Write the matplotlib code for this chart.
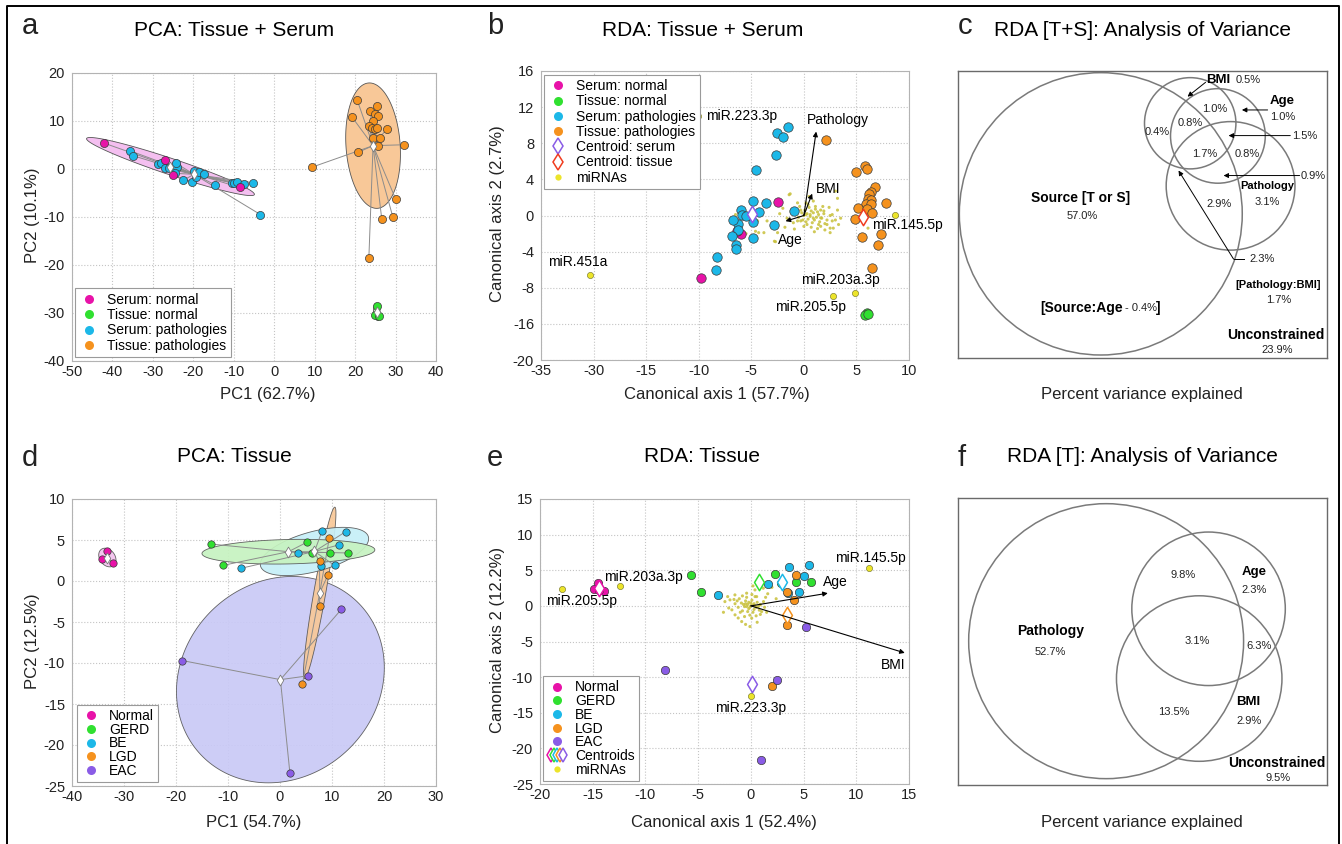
import matplotlib
matplotlib.use('Agg')
import matplotlib.pyplot as plt
import numpy as np
from matplotlib.lines import Line2D
from matplotlib.patches import Circle
from matplotlib.legend_handler import HandlerTuple

plt.rcParams['font.family'] = ['Liberation Sans', 'DejaVu Sans']
plt.rcParams['axes.unicode_minus'] = False

W, H = 1342, 844

MAGENTA = '#e812a8'
GREEN = '#30e030'
CYAN = '#1cb8e8'
ORANGE = '#f5921e'
PURPLE = '#8a5ce6'
YELLOW = '#ece42a'
SMALL_YEL = '#c8c03a'
RED = '#f03c1e'

# ---------------- panel a: PCA tissue + serum ----------------
a_serum_normal_x = [-42.1, -26.9, -25.1, -8.5]
a_serum_normal_y = [5.4, 1.85, -1.35, -3.85]
a_serum_path_x = [-35.7, -35.0, -28.8, -28.0, -27.0, -25.9, -24.95, -24.1, -24.3, -24.5, -22.5, -20.25,
                  -19.8, -19.3, -18.5, -17.3, -14.6, -10.5, -9.9, -9.3, -7.4, -5.3, -3.4]
a_serum_path_y = [3.8, 2.8, 1.0, 1.3, 0.15, 0.3, 0.3, 0.5, 1.2, -0.9, -2.35, -2.65,
                  -0.35, -1.6, -0.55, -1.1, -3.3, -2.85, -3.0, -2.65, -3.2, -2.85, -9.5]
a_tissue_normal_x = [25.3, 24.9, 26.0]
a_tissue_normal_y = [-28.5, -30.4, -30.6]
a_tissue_path_x = [20.5, 19.3, 23.8, 25.5, 24.9, 25.7, 24.5, 23.5, 24.1, 24.9, 25.5, 27.8, 24.3, 26.2,
                   25.6, 32.1, 20.8, 9.4, 30.0, 26.6, 29.3, 23.4]
a_tissue_path_y = [14.4, 10.75, 12.0, 13.2, 11.5, 11.1, 10.1, 8.9, 8.5, 8.4, 8.5, 8.3, 6.4, 6.4,
                   4.7, 5.05, 3.5, 0.4, -6.2, -10.5, -9.9, -18.5]

# ---------------- panel b: RDA tissue + serum ----------------
b_serum_normal_x = [-2.44, -6.0, -6.4, -9.82]
b_serum_normal_y = [1.49, -2.1, -1.67, -6.95]
b_tissue_normal_x = [6.0, 5.86, 6.1]
b_tissue_normal_y = [-13.5, -14.1, -13.8]
b_serum_path_x = [-1.52, -2.53, -2.03, -2.66, -4.59, -4.88, -3.64, -4.25, -4.88, -6.0, -5.9, -5.5,
                  -6.27, -6.7, -6.27, -2.88, -0.95, -6.88, -4.88, -6.46, -6.43, -8.24, -8.33]
b_serum_path_y = [9.78, 9.1, 8.74, 6.69, 5.02, 1.56, 1.34, 0.41, -0.7, 0.63, 0.1, -0.07,
                  -0.93, -0.52, -1.6, -1.08, 0.48, -2.23, -2.49, -3.23, -3.68, -4.54, -6.06]
b_tissue_path_x = [2.15, 5.86, 6.02, 5.0, 6.81, 6.34, 6.18, 6.08, 6.4, 5.89, 6.34, 7.83, 5.13, 6.02,
                   6.5, 4.82, 7.29, 5.51, 7.07, 6.5]
b_tissue_path_y = [8.36, 5.43, 5.2, 4.87, 3.2, 2.64, 2.34, 1.86, 1.67, 1.23, 1.3, 1.41, 0.78, 0.67,
                   0.3, -0.41, -2.0, -2.38, -3.23, -5.84]
b_centroid_names = ['serum', 'tissue']
b_centroid_x = [-4.9, 5.6]
b_centroid_y = [0.22, -0.19]
b_mir_names = ['miR.223.3p', 'miR.451a', 'miR.145.5p', 'miR.203a.3p', 'miR.205.5p']
b_mir_x = [-10.1, -30.3, 8.71, 4.85, 2.76]
b_mir_y = [11.0, -6.58, 0.11, -9.24, -9.92]
b_mir_small_x = [0.0, 0.3, 0.6, 0.9, 1.2, 0.4, -0.2, 0.1, 0.7, 1.0, 1.4, 1.7, -0.5, -0.3, 0.2, 0.8, 1.5,
                 1.9, 2.2, -0.8, 0.5, 1.1, -0.1, 0.6, 0.9, 1.3, 0.2, -0.6, 1.6, 2.0, 0.4, -0.4, 1.8,
                 2.5, 2.7, 3.0, 3.3, 2.2, 2.5, 1.3, 1.6, 1.9, 2.7, -0.3, -0.6, 0.5, 0.2, -1.4, 1.1,
                 3.0, -1.0, -1.2, -1.6, 0.0, 0.7, 1.0, 2.0, 2.8, 3.5, 3.2, -2.5, -2.7, -4.3, -6.5,
                 -6.65, -4.4, -3.5, -4.6, -3.8, -2.8, -1.3, 3.2, 2.5, 1.6, 6.1, -2.0, -1.8, -2.3,
                 0.9, 1.4, 0.3, -0.9, 2.4, -5.5, -6.0]
b_mir_small_y = [0.0, 0.2, -0.1, 0.3, -0.2, -0.4, 0.3, 0.6, 0.5, -0.5, 0.1, -0.3, -0.2, 0.6, -0.7,
                 -0.8, -0.7, 0.2, -0.5, 0.2, 0.9, 0.7, -0.5, 0.1, -0.3, 0.4, 0.1, -0.6, 0.6, -0.9,
                 1.2, 1.0, 1.0, 0.0, -0.6, -0.5, -1.0, -1.0, -1.9, -1.45, -0.26, 0.5, 0.1, -0.6,
                 1.4, 2.1, 1.4, 2.3, 1.0, 2.7, -0.8, 0.5, -0.3, -1.2, -1.3, -1.8, -1.6, -1.4, -0.3,
                 0.6, -1.9, -2.9, -1.9, 0.1, -0.8, -0.6, -0.6, -1.75, -1.9, -2.85, 2.4, 1.9, -1.4,
                 -1.2, -1.4, 0.8, -1.3, 0.2, 1.6, -1.0, -1.0, -1.5, 0.9, -2.0, 0.8]
b_vec_names = ['Pathology', 'BMI', 'Age']
b_vec_x = [1.17, 0.79, -1.74]
b_vec_y = [9.29, 2.42, -0.63]

# ---------------- panel d: PCA tissue ----------------
d_groups = ['Normal', 'GERD', 'BE', 'LGD', 'EAC']
d_x = {
    'Normal': [-33.2, -34.3, -32.1],
    'GERD': [-13.2, -11.0, 5.1, 6.1, 9.7, 13.0],
    'BE': [-7.5, 3.5, 8.1, 12.6, 11.3, 7.9, 10.5],
    'LGD': [9.5, 7.6, 9.2, 7.6, 4.3],
    'EAC': [-18.8, 11.8, 5.4, 1.9],
}
d_y = {
    'Normal': [3.7, 2.65, 2.24],
    'GERD': [4.5, 1.9, 4.7, 3.46, 3.46, 3.42],
    'BE': [1.55, 3.4, 6.1, 6.0, 4.4, 1.87, 1.9],
    'LGD': [5.3, 2.4, 0.7, -3.05, -12.6],
    'EAC': [-9.7, -3.46, -11.56, -23.4],
}

# ---------------- panel e: RDA tissue ----------------
e_x = {
    'Normal': [-14.5, -14.9, -13.9, -14.4],
    'GERD': [-5.7, -4.7, 2.3, 4.3, 5.7, 2.9],
    'BE': [-3.15, 1.6, 3.6, 5.0, 5.55, 4.6, 3.55],
    'LGD': [4.25, 3.4, 4.1, 3.4, 2.0],
    'EAC': [-8.14, 2.5, 5.2, 0.93],
}
e_y = {
    'Normal': [3.2, 2.3, 2.1, 2.2],
    'GERD': [4.3, 1.9, 4.44, 3.3, 3.3, 3.2],
    'BE': [1.54, 3.1, 5.4, 4.2, 5.7, 1.96, 1.8],
    'LGD': [4.35, 2.0, 0.84, -2.7, -11.2],
    'EAC': [-9.0, -10.4, -2.9, -21.6],
}
e_mir_names = ['miR.145.5p', 'miR.203a.3p', 'miR.205.5p', 'miR.223.3p']
e_mir_x = [11.2, -12.4, -17.9, 0.0]
e_mir_y = [5.3, 2.8, 2.3, -12.6]
e_mir_small_x = [0.0, -0.3, -0.6, 0.3, -0.2, 0.5, -0.9, -0.5, 0.1, 0.6, -1.2, -0.8, 0.2, 0.8, -1.5,
                 -1.1, -0.4, 0.4, 0.9, -0.1, -0.6, 0.5, -1.5, -1.8, -2.46, -1.98, -1.51, -0.4, 0.55,
                 0.39, 0.86, 1.02, 0.08, -0.87, -0.09, 1.18, 1.6, 2.0, 1.4, -2.1, -1.3, -0.2, 0.2,
                 -0.4, 0.7, -0.7, -1.0, 1.3, 1.2, -0.3, 0.3, -1.6, -2.2, 0.1, -0.8, 0.9, -1.2, 0.6,
                 -0.5, 1.5, 0.0, -0.1, -0.5, 0.4, 2.4, -2.6, 0.2]
e_mir_small_y = [0.0, 0.2, -0.1, 0.3, -0.4, -0.2, 0.4, 0.7, 0.8, 0.5, -0.2, -0.7, -0.9, -0.6, 0.3,
                 1.0, 1.2, 1.3, 0.2, -1.3, -1.5, -1.4, -1.26, -0.56, 0.6, 0.84, 1.54, 1.78, 1.3,
                 2.24, 0.14, -0.8, -1.73, -2.2, -2.9, 2.48, 1.7, 2.6, 1.2, -0.3, 0.7, 0.5, 0.1,
                 -0.1, -0.1, 0.2, -0.9, -0.2, 0.6, -0.8, -0.5, 0.9, 1.3, 1.6, 1.4, -1.2, -1.7,
                 -2.3, -2.6, -0.9, 0.4, -0.2, 0.3, 0.0, 1.0, -0.9, 2.8]
e_vec_names = ['Age', 'BMI']
e_vec_x = [7.3, 14.6]
e_vec_y = [1.78, -6.6]

group_colors = {'Normal': MAGENTA, 'GERD': GREEN, 'BE': CYAN, 'LGD': ORANGE, 'EAC': PURPLE}
group_fills = {'Normal': '#f4c2ee', 'GERD': '#c6f3c0', 'BE': '#c6eff8', 'LGD': '#f8c898', 'EAC': '#c9c9f6'}

# ---------------- panel c / f: variance partitioning (venn layout in panel pixel units) ----------------
c_circle_names = ['Source', 'BMI', 'Age', 'Pathology']
c_circle_cx = [512, 780, 863, 901]
c_circle_cy = [642, 370, 408, 558]
c_circle_r = [424, 137, 142, 193]
f_circle_names = ['Pathology', 'Age', 'BMI']
f_circle_cx = [528, 835, 807]
f_circle_cy = [664, 567, 776]
f_circle_r = [412, 230, 248]


fig = plt.figure(figsize=(W / 100, H / 100), dpi=100)


def place(l, t, r, b):
    return fig.add_axes([l / W, 1 - b / H, (r - l) / W, (b - t) / H])


def style_axes(ax):
    for s in ax.spines.values():
        s.set_color('#b3b3b3')
        s.set_linewidth(0.8)
    ax.grid(True, color='#c4c4c4', linestyle=':', linewidth=0.8)
    ax.set_axisbelow(True)
    ax.tick_params(length=0, labelsize=10.5, colors='#222222')
    ax.tick_params(axis='x', pad=3)
    ax.tick_params(axis='y', pad=5)


def cov_ellipse(x, y, scale=1.51, n=200):
    x = np.asarray(x, float)
    y = np.asarray(y, float)
    vals, vecs = np.linalg.eigh(np.cov(x, y))
    t = np.linspace(0, 2 * np.pi, n)
    circ = np.vstack([np.cos(t), np.sin(t)])
    pts = vecs @ (np.sqrt(np.clip(vals, 0, None))[:, None] * circ) * scale
    return x.mean() + pts[0], y.mean() + pts[1]


def spider(ax, x, y, size, color, with_centroid=True):
    cx, cy = np.mean(x), np.mean(y)
    for xi, yi in zip(x, y):
        ax.plot([cx, xi], [cy, yi], color='#8c8c8c', lw=0.7, zorder=2)
    ax.scatter(x, y, s=size, c=color, edgecolors='#3a3a3a', linewidths=0.5, zorder=4)
    if with_centroid:
        ax.scatter([cx], [cy], marker='d', s=30, c='white', edgecolors='#7a7a7a', linewidths=0.6, zorder=5)


def dot(color, ms=6.5):
    return Line2D([], [], marker='o', ls='none', markersize=ms, markerfacecolor=color, markeredgecolor='none')


def diamond(color, ms=8):
    return Line2D([], [], marker='d', ls='none', markersize=ms, markerfacecolor='white',
                  markeredgecolor=color, markeredgewidth=1.1)


def make_legend(ax, handles, labels, anchor, loc, spacing, **kw):
    leg = ax.legend(handles, labels, loc=loc, bbox_to_anchor=anchor, borderaxespad=0, fontsize=10,
                    frameon=True, fancybox=False, edgecolor='#9a9a9a', framealpha=1,
                    labelspacing=spacing, handletextpad=0.6, handlelength=1.4, borderpad=0.3, **kw)
    leg.get_frame().set_linewidth(0.8)
    return leg


# ================= panel a =================
ax = place(72, 73, 436, 361)
style_axes(ax)
ax.set_xlim(-50, 40)
ax.set_ylim(-40, 20)
ax.set_xticks(range(-50, 41, 10))
ax.set_yticks(range(-40, 21, 10))
for gx, gy, fill in [(a_serum_normal_x, a_serum_normal_y, '#f4bff0'),
                     (a_tissue_path_x, a_tissue_path_y, '#f8c898'),
                     (a_tissue_normal_x, a_tissue_normal_y, '#c6f3c0')]:
    ex, ey = cov_ellipse(gx, gy)
    ax.fill(ex, ey, facecolor=fill, edgecolor='#555555', lw=0.6, zorder=1)
spider(ax, a_serum_path_x, a_serum_path_y, 34, CYAN)
spider(ax, a_serum_normal_x, a_serum_normal_y, 34, MAGENTA)
spider(ax, a_tissue_path_x, a_tissue_path_y, 34, ORANGE)
spider(ax, a_tissue_normal_x, a_tissue_normal_y, 34, GREEN)
make_legend(ax, [dot(MAGENTA), dot(GREEN), dot(CYAN), dot(ORANGE)],
            ['Serum: normal', 'Tissue: normal', 'Serum: pathologies', 'Tissue: pathologies'],
            (0.008, 0.014), 'lower left', 0.1)

# ================= panel b =================
def fwd_x(x):
    x = np.asarray(x, float)
    return np.where(x < -30, x + 10, np.where(x < -15, -20 + (x + 30) / 3, x))


def inv_x(x):
    x = np.asarray(x, float)
    return np.where(x < -20, x - 10, np.where(x < -15, -30 + (x + 20) * 3, x))


def fwd_y(y):
    y = np.asarray(y, float)
    return np.where(y < -16, y + 4, np.where(y < -8, -8 + (y + 8) / 2, y))


def inv_y(y):
    y = np.asarray(y, float)
    return np.where(y < -12, y - 4, np.where(y < -8, -8 + (y + 8) * 2, y))


ax = place(541, 71, 909, 360)
ax.set_xscale('function', functions=(fwd_x, inv_x))
ax.set_yscale('function', functions=(fwd_y, inv_y))
style_axes(ax)
ax.set_xlim(-35, 10)
ax.set_ylim(-20, 16)
ax.set_xticks([-35, -30, -15, -10, -5, 0, 5, 10])
ax.set_xticklabels(['-35', '-30', '-15', '-10', '-5', '0', '5', '10'])
ax.set_yticks([-20, -16, -8, -4, 0, 4, 8, 12, 16])
ax.set_yticklabels(['-20', '-16', '-8', '-4', '0', '4', '8', '12', '16'])
ax.minorticks_off()
ax.scatter(b_mir_small_x, b_mir_small_y, s=5, c=SMALL_YEL, edgecolors='none', alpha=0.85, zorder=3)
for xs, ys, col in [(b_serum_normal_x, b_serum_normal_y, MAGENTA),
                    (b_tissue_normal_x, b_tissue_normal_y, GREEN),
                    (b_serum_path_x, b_serum_path_y, CYAN),
                    (b_tissue_path_x, b_tissue_path_y, ORANGE)]:
    ax.scatter(xs, ys, s=46, c=col, edgecolors='#3a3a3a', linewidths=0.5, zorder=4)
for nm, cx, cy in zip(b_centroid_names, b_centroid_x, b_centroid_y):
    ax.scatter([cx], [cy], marker='d', s=70, c='white', edgecolors=PURPLE if nm == 'serum' else RED,
               linewidths=1.1, zorder=5)
ax.scatter(b_mir_x, b_mir_y, s=20, c=YELLOW, edgecolors='#6a6a20', linewidths=0.4, zorder=5)
b_mir_offsets = {'miR.223.3p': (8, 0, 'left'), 'miR.451a': (-13, 13, 'center'),
                 'miR.145.5p': (-23, -10, 'left'), 'miR.203a.3p': (-54, 13, 'left'),
                 'miR.205.5p': (-58, -11, 'left')}
for nm, mx, my in zip(b_mir_names, b_mir_x, b_mir_y):
    dx, dy, ha = b_mir_offsets[nm]
    ax.annotate(nm, (mx, my), xytext=(dx, dy), textcoords='offset pixels', ha=ha, va='center',
                fontsize=10, zorder=6)
b_vec_offsets = {'Pathology': (-9, 12), 'BMI': (4, 5), 'Age': (-8, -19)}
for nm, vx, vy in zip(b_vec_names, b_vec_x, b_vec_y):
    ax.annotate('', xy=(vx, vy), xytext=(0, 0),
                arrowprops=dict(arrowstyle='-|>', color='black', lw=0.8, mutation_scale=7,
                                shrinkA=0, shrinkB=0), zorder=6)
    dx, dy = b_vec_offsets[nm]
    ax.annotate(nm, (vx, vy), xytext=(dx, dy), textcoords='offset pixels', ha='left', va='center',
                fontsize=10, zorder=6)
make_legend(ax, [dot(MAGENTA), dot(GREEN), dot(CYAN), dot(ORANGE), diamond(PURPLE), diamond(RED),
                 dot(YELLOW, 4.5)],
            ['Serum: normal', 'Tissue: normal', 'Serum: pathologies', 'Tissue: pathologies',
             'Centroid: serum', 'Centroid: tissue', 'miRNAs'],
            (0.008, 0.986), 'upper left', 0.09)

# ================= panel d =================
ax = place(72, 499, 436, 786)
style_axes(ax)
ax.set_xlim(-40, 30)
ax.set_ylim(-25, 10)
ax.set_xticks(range(-40, 31, 10))
ax.set_yticks(range(-25, 11, 5))
for g in ['EAC', 'LGD', 'BE', 'GERD', 'Normal']:
    ex, ey = cov_ellipse(d_x[g], d_y[g])
    ax.fill(ex, ey, facecolor=group_fills[g], edgecolor='#555555', lw=0.6, zorder=1, alpha=0.92)
for g in d_groups:
    spider(ax, d_x[g], d_y[g], 28, group_colors[g])
make_legend(ax, [dot(group_colors[g]) for g in d_groups], d_groups, (0.014, 0.014), 'lower left', -0.02)

# ================= panel e =================
ax = place(540, 499, 909, 784)
style_axes(ax)
ax.set_xlim(-20, 15)
ax.set_ylim(-25, 15)
ax.set_xticks(range(-20, 16, 5))
ax.set_yticks(range(-25, 16, 5))
ax.scatter(e_mir_small_x, e_mir_small_y, s=5, c=SMALL_YEL, edgecolors='none', alpha=0.85, zorder=3)
for g in d_groups:
    ax.scatter(e_x[g], e_y[g], s=36, c=group_colors[g], edgecolors='#3a3a3a', linewidths=0.5, zorder=4)
for g in d_groups:
    ax.scatter([np.mean(e_x[g])], [np.mean(e_y[g])], marker='d', s=70, c='white',
               edgecolors=group_colors[g], linewidths=1.1, zorder=5)
ax.scatter(e_mir_x, e_mir_y, s=20, c=YELLOW, edgecolors='#6a6a20', linewidths=0.4, zorder=5)
e_mir_offsets = {'miR.145.5p': (-34, 10, 'left'), 'miR.203a.3p': (-16, 9, 'left'),
                 'miR.205.5p': (-16, -12, 'left'), 'miR.223.3p': (0, -12, 'center')}
for nm, mx, my in zip(e_mir_names, e_mir_x, e_mir_y):
    dx, dy, ha = e_mir_offsets[nm]
    ax.annotate(nm, (mx, my), xytext=(dx, dy), textcoords='offset pixels', ha=ha, va='center',
                fontsize=10, zorder=6)
e_vec_offsets = {'Age': (-5, 11), 'BMI': (-24, -12)}
for nm, vx, vy in zip(e_vec_names, e_vec_x, e_vec_y):
    ax.annotate('', xy=(vx, vy), xytext=(0, 0),
                arrowprops=dict(arrowstyle='-|>', color='black', lw=0.8, mutation_scale=7,
                                shrinkA=0, shrinkB=0), zorder=6)
    dx, dy = e_vec_offsets[nm]
    ax.annotate(nm, (vx, vy), xytext=(dx, dy), textcoords='offset pixels', ha='left', va='center',
                fontsize=10, zorder=6)
cent_handle = tuple(diamond(group_colors[g], 7.5) for g in d_groups)
make_legend(ax, [dot(group_colors[g]) for g in d_groups] + [cent_handle, dot(YELLOW, 4.5)],
            d_groups + ['Centroids', 'miRNAs'], (0.008, 0.011), 'lower left', -0.02,
            handler_map={tuple: HandlerTuple(ndivide=None, pad=-0.33)})


# ================= venn panels =================
def venn_axes(l, t, r, b, ylim_top, ylim_bottom):
    a = place(l, t, r, b)
    a.set_xlim(84, 1190)
    a.set_ylim(ylim_bottom, ylim_top)
    a.set_xticks([])
    a.set_yticks([])
    for s in a.spines.values():
        s.set_color('#6a6a6a')
        s.set_linewidth(1.0)
    return a


def arrow(a, tail, head):
    a.annotate('', xy=head, xytext=tail,
               arrowprops=dict(arrowstyle='-|>', color='black', lw=0.7, mutation_scale=7, shrinkA=0, shrinkB=0))


ax = venn_axes(958, 71, 1327, 358, 213, 1075)
for cx, cy, r in zip(c_circle_cx, c_circle_cy, c_circle_r):
    ax.add_patch(Circle((cx, cy), r, fill=False, edgecolor='#7a7a7a', lw=1.1, clip_on=False))
B = dict(fontsize=9.5, fontweight='bold', ha='center', va='center')
P = dict(fontsize=8, ha='center', va='center', color='#222222')
ax.text(865, 240, 'BMI', **B)
ax.text(953, 240, '0.5%', **P)
arrow(ax, (826, 247), (772, 290))
ax.text(1057, 303, 'Age', **B)
ax.text(1057, 350, '1.0%', **P)
arrow(ax, (1012, 330), (935, 330))
ax.text(1122, 407, '1.5%', **P)
arrow(ax, (1080, 407), (895, 407))
ax.text(1148, 527, '0.9%', **P)
arrow(ax, (1108, 527), (880, 527))
ax.text(852, 328, '1.0%', **P)
ax.text(780, 370, '0.8%', **P)
ax.text(682, 395, '0.4%', **P)
ax.text(822, 463, '1.7%', **P)
ax.text(952, 463, '0.8%', **P)
ax.text(1010, 557, 'Pathology', fontsize=8, fontweight='bold', ha='center', va='center')
ax.text(1010, 605, '3.1%', **P)
ax.text(865, 612, '2.9%', **P)
ax.text(995, 778, '2.3%', **P)
ax.plot([940, 910], [778, 778], color='black', lw=0.7)
arrow(ax, (910, 778), (745, 512))
ax.text(1045, 855, '[Pathology:BMI]', fontsize=8, fontweight='bold', ha='center', va='center')
ax.text(1045, 902, '1.7%', **P)
ax.text(450, 595, 'Source [T or S]', fontsize=10, fontweight='bold', ha='center', va='center')
ax.text(455, 648, '57.0%', **P)
ax.text(578, 925, '[Source:Age', fontsize=10, fontweight='bold', ha='right', va='center')
ax.text(585, 925, '- 0.4%', fontsize=8, ha='left', va='center', color='#222222')
ax.text(678, 925, ']', fontsize=10, fontweight='bold', ha='left', va='center')
ax.text(1038, 1005, 'Unconstrained', fontsize=10, fontweight='bold', ha='center', va='center')
ax.text(1040, 1050, '23.9%', **P)

ax = venn_axes(958, 498, 1327, 785, 235, 1095)
for cx, cy, r in zip(f_circle_cx, f_circle_cy, f_circle_r):
    ax.add_patch(Circle((cx, cy), r, fill=False, edgecolor='#7a7a7a', lw=1.1, clip_on=False))
ax.text(760, 467, '9.8%', **P)
ax.text(972, 458, 'Age', **B)
ax.text(972, 512, '2.3%', **P)
ax.text(362, 635, 'Pathology', fontsize=10, fontweight='bold', ha='center', va='center')
ax.text(362, 697, '52.7%', **P)
ax.text(800, 663, '3.1%', **P)
ax.text(985, 678, '6.3%', **P)
ax.text(955, 845, 'BMI', **B)
ax.text(955, 903, '2.9%', **P)
ax.text(730, 877, '13.5%', **P)
ax.text(1040, 1030, 'Unconstrained', fontsize=10, fontweight='bold', ha='center', va='center')
ax.text(1042, 1073, '9.5%', **P)

# ================= titles, letters, axis labels =================
def ftext(x, y, s, **kw):
    fig.text(x / W, 1 - y / H, s, ha='center', va='center', **kw)


for letter, lx, ly in [('a', 30, 26), ('b', 495, 26), ('c', 965, 26),
                       ('d', 30, 458), ('e', 495, 458), ('f', 962, 458)]:
    ftext(lx, ly, letter, fontsize=21, color='#222222')
for title, tx, ty in [('PCA: Tissue + Serum', 234, 30), ('RDA: Tissue + Serum', 703, 30),
                      ('RDA [T+S]: Analysis of Variance', 1142, 30), ('PCA: Tissue', 234, 457),
                      ('RDA: Tissue', 702, 457), ('RDA [T]: Analysis of Variance', 1142, 457)]:
    ftext(tx, ty, title, fontsize=15)
for lab, lx, ly in [('PC1 (62.7%)', 268, 395), ('Canonical axis 1 (57.7%)', 717, 395),
                    ('Percent variance explained', 1142, 394), ('PC1 (54.7%)', 254, 823),
                    ('Canonical axis 1 (52.4%)', 724, 823), ('Percent variance explained', 1142, 823)]:
    ftext(lx, ly, lab, fontsize=12, color='#222222')
for lab, lx, ly in [('PC2 (10.1%)', 33, 215), ('Canonical axis 2 (2.7%)', 498, 214),
                    ('PC2 (12.5%)', 33, 641), ('Canonical axis 2 (12.2%)', 498, 640)]:
    ftext(lx, ly, lab, fontsize=12, rotation=90, color='#222222')

# outer frame
fig.add_artist(Line2D([7 / W, 7 / W, 1339 / W, 1339 / W], [0, 1 - 6 / H, 1 - 6 / H, 0],
                      color='black', lw=1.4, transform=fig.transFigure))

fig.savefig('out.png', dpi=100)
